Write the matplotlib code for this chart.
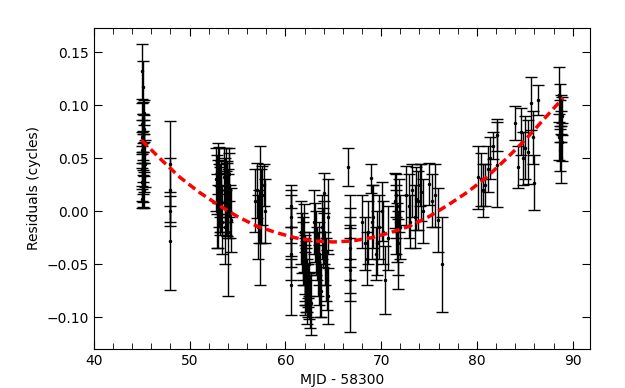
import numpy as np
import matplotlib
matplotlib.use("Agg")
import matplotlib.pyplot as plt
from matplotlib.ticker import MultipleLocator

# Residual data (MJD - 58300, residual in cycles, 1-sigma error)
mjd = [
    45.0, 45.1, 45.2, 45.1, 45.0, 45.2, 45.1, 45.0, 45.2, 45.1, 45.0, 45.2, 45.1, 45.3, 45.0, 45.1, 45.2, 45.0, 45.1, 45.2, 45.1, 45.0,
    48.0, 48.0, 48.0, 48.0,
    52.8, 52.9, 53.0, 53.1, 53.2, 53.3, 52.9, 53.0, 53.1, 53.2, 53.3, 53.4, 53.0, 53.2,
    53.6, 53.7, 53.8, 53.9, 54.0, 54.1, 54.2, 54.3, 53.7, 53.9, 54.1, 54.0, 53.8,
    56.8, 57.0, 57.2, 57.4, 57.6, 57.8, 57.9, 57.1, 57.5,
    60.6, 60.6, 60.6, 60.6, 60.6, 60.6,
    61.6, 61.7, 61.8, 61.9, 62.0, 62.1, 62.2, 62.3, 62.4, 62.5, 62.6, 62.7, 61.8, 62.0, 62.2, 62.4, 61.9, 62.1, 62.3, 62.5,
    63.0, 63.1, 63.2, 63.3, 63.4, 63.5, 63.6, 63.7, 63.8, 63.9, 64.0, 64.1, 64.2, 64.3, 64.4, 64.5, 63.5, 64.0,
    66.5, 66.8, 66.8, 66.8, 66.8, 66.8, 66.8,
    68.0, 68.3, 68.6, 68.9, 69.2, 69.5, 69.8, 70.1, 70.4, 70.7, 68.5, 69.0, 69.6, 70.2,
    71.4, 71.5, 71.6, 71.7, 71.8, 71.9, 72.0, 71.6, 71.8,
    72.6, 72.9, 73.2, 73.5, 73.8, 74.1, 74.4, 73.0, 73.6, 74.2,
    75.0, 75.3, 75.6, 75.9, 76.4,
    80.1, 80.4, 80.8, 81.2, 81.7, 82.1, 82.1, 80.6, 81.4,
    84.0, 84.3, 84.6, 85.0, 85.3, 85.6, 86.0, 86.4, 84.8, 85.8,
    88.6, 88.7, 88.8, 88.9, 88.7, 88.8, 88.6, 88.9, 88.7, 88.8,
]
resid = [
    0.132, 0.117, 0.093, 0.088, 0.082, 0.078, 0.074, 0.070, 0.066, 0.062, 0.058, 0.053, 0.049, 0.045, 0.040, 0.036, 0.032, 0.028, 0.024, 0.020, 0.016, 0.012,
    0.045, 0.020, 0.000, -0.028,
    0.030, 0.025, 0.040, 0.015, 0.020, 0.008, 0.000, -0.005, 0.035, 0.010, 0.022, -0.010, 0.028, 0.002,
    0.032, 0.020, 0.040, 0.012, 0.005, 0.025, 0.000, -0.008, -0.015, 0.018, 0.035, -0.020, 0.008,
    0.010, 0.020, -0.005, -0.004, 0.015, 0.025, 0.000, -0.015, 0.005,
    0.005, -0.005, -0.015, -0.025, -0.040, -0.070,
    -0.020, -0.030, -0.040, -0.045, -0.055, -0.060, -0.065, -0.070, -0.075, -0.080, -0.085, -0.087, -0.035, -0.050, -0.058, -0.086, -0.025, -0.068, -0.078, -0.050,
    -0.010, -0.020, -0.030, -0.040, -0.050, -0.060, -0.070, -0.075, -0.015, -0.025, 0.017, -0.045, -0.055, -0.065, -0.080, -0.005, -0.040, -0.020,
    0.042, -0.015, -0.025, -0.035, -0.045, -0.055, -0.065,
    -0.010, -0.030, -0.020, 0.031, -0.005, -0.040, -0.015, 0.000, -0.065, -0.025, -0.045, -0.010, -0.030, -0.020,
    0.010, 0.000, -0.010, -0.020, -0.030, 0.005, -0.015, 0.015, -0.040,
    0.015, 0.005, 0.020, -0.005, 0.010, 0.025, 0.000, -0.010, 0.012, 0.018,
    0.026, 0.010, 0.015, -0.008, -0.050,
    0.032, 0.030, 0.025, 0.040, 0.062, 0.072, 0.044, 0.020, 0.050,
    0.083, 0.042, 0.075, 0.060, 0.056, 0.102, 0.027, 0.105, 0.050, 0.070,
    0.110, 0.100, 0.095, 0.090, 0.085, 0.080, 0.070, 0.065, 0.058, 0.050,
]
err = [
    0.026, 0.025, 0.012, 0.015, 0.020, 0.013, 0.018, 0.016, 0.020, 0.014, 0.017, 0.020, 0.015, 0.022, 0.016, 0.020, 0.014, 0.018, 0.015, 0.017, 0.012, 0.009,
    0.040, 0.030, 0.014, 0.046,
    0.030, 0.028, 0.024, 0.030, 0.025, 0.028, 0.035, 0.030, 0.026, 0.032, 0.025, 0.030, 0.020, 0.022,
    0.028, 0.030, 0.020, 0.035, 0.030, 0.030, 0.025, 0.030, 0.035, 0.028, 0.025, 0.060, 0.030,
    0.030, 0.026, 0.025, 0.066, 0.028, 0.020, 0.030, 0.030, 0.035,
    0.020, 0.025, 0.030, 0.028, 0.025, 0.028,
    0.030, 0.028, 0.030, 0.025, 0.030, 0.028, 0.030, 0.025, 0.025, 0.022, 0.025, 0.030, 0.030, 0.028, 0.030, 0.004, 0.032, 0.030, 0.028, 0.030,
    0.030, 0.028, 0.030, 0.025, 0.030, 0.028, 0.030, 0.025, 0.030, 0.028, 0.019, 0.025, 0.030, 0.028, 0.026, 0.035, 0.030, 0.030,
    0.018, 0.030, 0.028, 0.030, 0.032, 0.030, 0.049,
    0.025, 0.025, 0.030, 0.014, 0.030, 0.025, 0.030, 0.028, 0.032, 0.030, 0.025, 0.035, 0.030, 0.030,
    0.026, 0.025, 0.030, 0.028, 0.030, 0.025, 0.030, 0.020, 0.033,
    0.028, 0.030, 0.025, 0.030, 0.028, 0.020, 0.030, 0.025, 0.030, 0.027,
    0.020, 0.025, 0.030, 0.030, 0.045,
    0.030, 0.025, 0.020, 0.022, 0.013, 0.015, 0.040, 0.025, 0.020,
    0.016, 0.020, 0.022, 0.030, 0.030, 0.025, 0.026, 0.014, 0.025, 0.025,
    0.026, 0.020, 0.015, 0.018, 0.020, 0.015, 0.022, 0.018, 0.020, 0.023,
]

# Quadratic trend
fit_x = [45, 47, 49, 51, 53, 55, 57, 59, 61, 63, 65, 67, 69, 71, 73, 75, 77, 79, 81, 83, 85, 87, 89]
fit_y = [0.067, 0.049, 0.032, 0.018, 0.006, -0.005, -0.014, -0.020, -0.025, -0.028, -0.029, -0.028,
         -0.025, -0.020, -0.014, -0.005, 0.006, 0.018, 0.032, 0.049, 0.067, 0.087, 0.107]

fig = plt.figure(figsize=(6.25, 3.88), dpi=100)
ax = fig.add_axes([0.150, 0.1005, 0.794, 0.8275])

ax.errorbar(mjd, resid, yerr=err, fmt='.', color='k', ms=3,
            elinewidth=1, capsize=4, capthick=1)
ax.plot(fit_x, fit_y, '--', color='red', lw=2.5, dashes=(2.4, 1.3), zorder=5)

ax.set_xlim(40, 91.8)
ax.set_ylim(-0.13, 0.173)
ax.xaxis.set_major_locator(MultipleLocator(10))
ax.xaxis.set_minor_locator(MultipleLocator(2))
ax.yaxis.set_major_locator(MultipleLocator(0.05))
ax.tick_params(which='both', direction='in', top=True, right=True, labelsize=10)
ax.tick_params(which='major', length=6)
ax.tick_params(which='minor', length=4)

ax.set_xlabel("MJD - 58300", fontsize=10)
ax.set_ylabel("Residuals (cycles)", fontsize=10)

fig.savefig("out.png", dpi=100)
